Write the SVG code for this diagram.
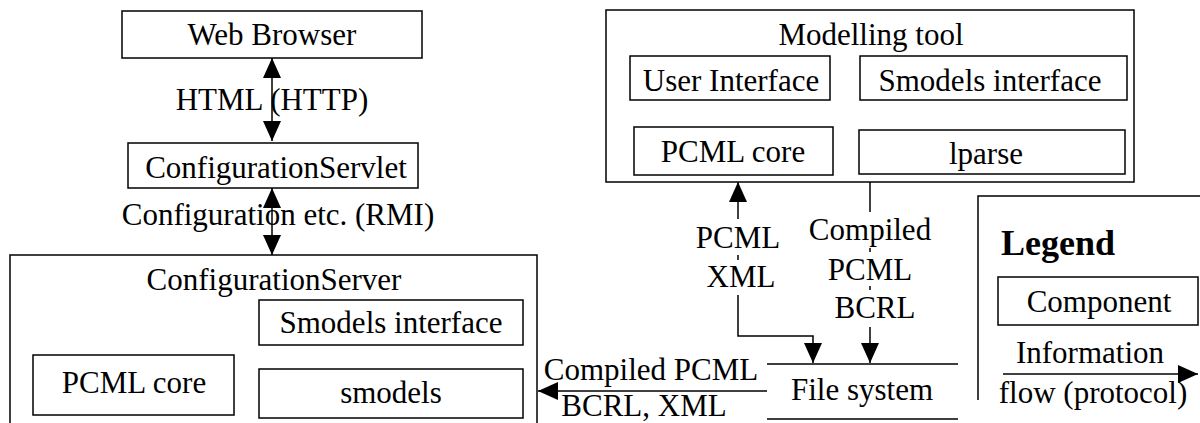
<svg xmlns="http://www.w3.org/2000/svg" width="1200" height="423" viewBox="0 0 1200 423">
<style>
  .box { fill: #fff; stroke: #000; stroke-width: 1.5; }
  .ln { fill: none; stroke: #000; stroke-width: 1.5; }
  text { font-family: 'Liberation Serif', Tinos, 'Times New Roman', 'DejaVu Serif', 'Noto Serif', serif; font-size: 31px; fill: #000; text-anchor: middle; }
  .bold { font-weight: bold; font-size: 36px; text-anchor: start; }
</style>
<defs>
  <marker id="ah" viewBox="0 0 20 18" markerWidth="20" markerHeight="18" refX="20" refY="9" orient="auto-start-reverse" markerUnits="userSpaceOnUse">
    <path d="M0,0 L20,9 L0,18 z" fill="#000"/>
  </marker>
</defs>
<rect width="1200" height="423" fill="#fff"/>

<g id="web-browser">
  <rect class="box" x="122" y="11" width="300" height="47"/>
  <text x="272" y="45">Web Browser</text>
</g>
<g id="configuration-servlet">
  <rect class="box" x="128" y="143" width="290" height="45"/>
  <text x="276" y="178">ConfigurationServlet</text>
</g>
<g id="configuration-server">
  <rect class="box" x="10" y="255" width="527" height="180"/>
  <text x="274" y="290">ConfigurationServer</text>
  <g id="server-smodels-interface">
    <rect class="box" x="259" y="300" width="264" height="45"/>
    <text x="391" y="333">Smodels interface</text>
  </g>
  <g id="server-pcml-core">
    <rect class="box" x="33" y="355" width="201" height="60"/>
    <text x="134" y="393">PCML core</text>
  </g>
  <g id="server-smodels">
    <rect class="box" x="259" y="369" width="264" height="49"/>
    <text x="391" y="403">smodels</text>
  </g>
</g>
<g id="modelling-tool">
  <rect class="box" x="606" y="10" width="528" height="172"/>
  <text x="871" y="45">Modelling tool</text>
  <g id="tool-user-interface">
    <rect class="box" x="630" y="56" width="200" height="44"/>
    <text x="731" y="91">User Interface</text>
  </g>
  <g id="tool-smodels-interface">
    <rect class="box" x="860" y="56" width="267" height="44"/>
    <text x="990" y="91">Smodels interface</text>
  </g>
  <g id="tool-pcml-core">
    <rect class="box" x="634" y="127" width="199" height="48"/>
    <text x="733" y="162">PCML core</text>
  </g>
  <g id="tool-lparse">
    <rect class="box" x="859" y="130" width="266" height="44"/>
    <text x="986" y="164">lparse</text>
  </g>
</g>
<g id="file-system">
  <path class="ln" d="M767,364 H958 M767,419 H958"/>
  <text x="862" y="400">File system</text>
</g>
<g id="legend">
  <path class="ln" d="M978,400 V196 H1202"/>
  <text class="bold" x="1001" y="255">Legend</text>
  <rect class="box" x="998" y="277" width="200" height="48"/>
  <text x="1099" y="312">Component</text>
  <text x="1090" y="363">Information</text>
  <text x="1093" y="403">flow (protocol)</text>
</g>

<g id="labels">
  <text x="272" y="110">HTML (HTTP)</text>
  <text x="278" y="225">Configuration etc. (RMI)</text>
  <text x="738" y="248">PCML</text>
  <text x="741" y="287">XML</text>
  <text x="870" y="240">Compiled</text>
  <text x="870" y="280">PCML</text>
  <text x="875" y="318">BCRL</text>
  <text x="651" y="380">Compiled PCML</text>
  <text x="644" y="416">BCRL, XML</text>
</g>

<g id="connectors">
  <line class="ln" x1="272" y1="58" x2="272" y2="141" marker-start="url(#ah)" marker-end="url(#ah)"/>
  <line class="ln" x1="272" y1="188" x2="272" y2="255" marker-start="url(#ah)" marker-end="url(#ah)"/>
  <line class="ln" x1="738" y1="182" x2="738" y2="219" marker-start="url(#ah)"/>
  <line class="ln" x1="738" y1="255" x2="738" y2="260"/>
  <path class="ln" d="M738,295 V336 H813 V363" marker-end="url(#ah)"/>
  <line class="ln" x1="870" y1="182" x2="870" y2="212"/>
  <line class="ln" x1="870" y1="248" x2="870" y2="252"/>
  <line class="ln" x1="870" y1="286" x2="870" y2="290"/>
  <line class="ln" x1="870" y1="327" x2="870" y2="363" marker-end="url(#ah)"/>
  <line class="ln" x1="767" y1="391" x2="538" y2="391" marker-end="url(#ah)"/>
  <line class="ln" x1="1003" y1="374" x2="1198" y2="374" marker-end="url(#ah)"/>
</g>
</svg>
